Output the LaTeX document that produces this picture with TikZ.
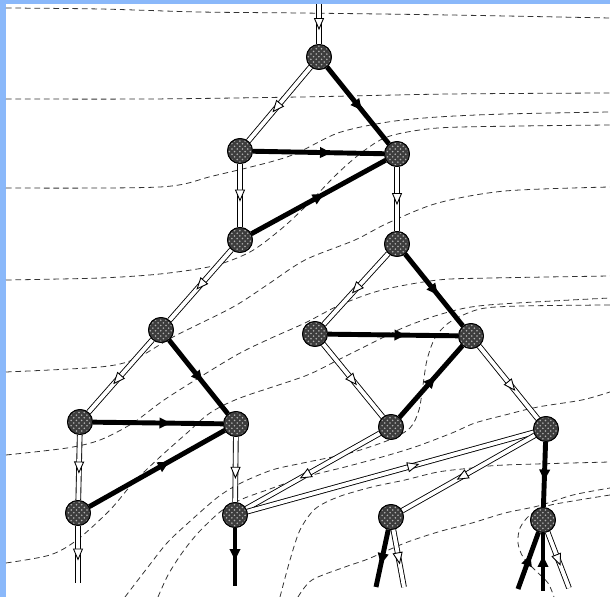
\documentclass[tikz,border=0pt]{standalone}
\usetikzlibrary{decorations.markings,patterns}
\definecolor{frameblue}{RGB}{138,184,250}
\tikzset{
  vnode/.style={circle, draw=black, line width=0.5pt, fill=black!76, minimum size=0.5cm, inner sep=0pt},
  nodetex/.style={pattern=crosshatch dots, pattern color=black!30},
  holline/.style={double=white, line width=0.5pt, double distance=2.2pt},
  blkline/.style={line width=2.8pt, black},
  holtip/.style={decoration={markings, mark=at position #1 with {\draw[fill=white, line width=0.5pt] (5,0) -- (-5.5,4.5) -- (-5.5,-4.5) -- cycle;}}, decorate},
  blktip/.style={decoration={markings, mark=at position #1 with {\fill[black] (6,0) -- (-5,5.6) -- (-5,-5.6) -- cycle;}}, decorate},
  dashline/.style={black!80, line width=0.45pt, dash pattern=on 3.2pt off 2.2pt}
}
\newcommand\HolEdge[3][0.5]{\draw[holline] (#2) -- (#3); \path[holtip=#1] (#2) -- (#3);}
\newcommand\BlkEdge[3][0.5]{\draw[blkline] (#2) -- (#3); \path[blktip=#1] (#2) -- (#3);}
\begin{document}
\begin{tikzpicture}[x=0.02cm, y=-0.02cm]
\useasboundingbox (0,0) rectangle (610,597);
\fill[frameblue] (0,0) rectangle (610,597);
\fill[white] (6,4) rectangle (610,597);

% background dashed curves
\draw[dashline] plot[smooth, tension=0.5] coordinates {(6,8) (100,9) (200,12) (300,13) (450,15) (610,18)};
\draw[dashline] plot[smooth, tension=0.5] coordinates {(6,99) (150,99) (300,97) (450,94) (610,93)};
\draw[dashline] plot[smooth, tension=0.5] coordinates {(6,188) (160,187) (213,176) (287,157) (338,133) (388,122) (438,117) (505,114) (610,112)};
\draw[dashline] plot[smooth, tension=0.5] coordinates {(6,280) (100,278) (160,274) (213,266) (250,252) (280,230) (305,207) (338,173) (365,150) (390,136) (438,128) (522,126) (610,125)};
\draw[dashline] plot[smooth, tension=0.5] coordinates {(6,372) (100,367) (135,359) (173,337) (233,307) (267,285) (305,260) (355,240) (388,223) (438,203) (505,191) (610,187)};
\draw[dashline] plot[smooth, tension=0.5] coordinates {(6,455) (67,448) (100,440) (133,423) (167,398) (233,357) (267,340) (305,323) (340,305) (382,290) (438,280) (492,278) (610,276)};
\draw[dashline] plot[smooth, tension=0.5] coordinates {(6,563) (50,555) (77,540) (110,510) (133,483) (160,457) (187,433) (210,413) (240,398) (305,376) (338,360) (372,343) (405,327) (445,313) (488,305) (610,298)};
\draw[dashline] plot[smooth, tension=0.5] coordinates {(125,597) (148,567) (167,543) (187,524) (218,497) (241,483) (272,470) (303,463) (350,453) (389,440) (410,428) (419,410) (423,385) (427,360) (435,338) (450,322) (480,309) (522,306) (610,305)};
\draw[dashline] plot[smooth, tension=0.5] coordinates {(158,597) (168,575) (182,553) (198,533) (220,512) (240,500) (267,490) (305,477) (345,467) (382,457) (415,447) (452,433) (475,423) (505,415) (538,407) (582,400) (610,392)};
\draw[dashline] plot[smooth, tension=0.5] coordinates {(280,597) (290,560) (300,530) (315,509) (338,497) (372,487) (405,480) (438,472) (472,468) (505,465) (610,462)};
\draw[dashline] plot[smooth, tension=0.5] coordinates {(298,597) (312,580) (345,567) (368,559) (405,543) (438,532) (472,523) (505,513) (538,506) (573,495) (610,488)};
\draw[dashline] plot[smooth, tension=0.5] coordinates {(610,495) (573,501) (547,506) (530,515) (520,528) (518,543) (523,557) (535,570) (548,583) (554,597)};

% node positions
\coordinate (p1) at (319,57);
\coordinate (p2) at (240,151);
\coordinate (p3) at (397,154);
\coordinate (p4) at (240,240);
\coordinate (p5) at (397,244);
\coordinate (p6) at (161,330);
\coordinate (p7) at (315,334);
\coordinate (p8) at (471,336);
\coordinate (p9) at (80,422);
\coordinate (p10) at (236,424);
\coordinate (p11) at (391,427);
\coordinate (p12) at (546,429);
\coordinate (p13) at (78,513);
\coordinate (p14) at (235,515);
\coordinate (p15) at (391,517);
\coordinate (p16) at (543,520);
\coordinate (t0) at (319,4);
\coordinate (b13) at (78,583);
\coordinate (b14) at (235,586);
\coordinate (b15k) at (376,587);
\coordinate (b15h) at (404,587);
\coordinate (b16k) at (518,589);
\coordinate (b16v) at (543,591);
\coordinate (b16h) at (569,588);

\foreach \i in {1,...,16} { \node[vnode] (N\i) at (p\i) {}; }

% hollow (double) edges
\HolEdge[0.5]{t0}{N1}
\HolEdge[0.55]{N1}{N2}
\HolEdge{N2}{N4}
\HolEdge{N3}{N5}
\HolEdge{N4}{N6}
\HolEdge{N5}{N7}
\HolEdge[0.55]{N6}{N9}
\HolEdge{N7}{N11}
\HolEdge[0.55]{N8}{N12}
\HolEdge{N9}{N13}
\HolEdge[0.55]{N10}{N14}
\HolEdge{N13}{b13}
\HolEdge[0.56]{N11}{N14}
\HolEdge[0.58]{N14}{N12}
\HolEdge[0.55]{N12}{N15}
\HolEdge{N15}{b15h}
\HolEdge{N16}{b16h}

% thick black edges
\BlkEdge{N1}{N3}
\BlkEdge[0.55]{N2}{N3}
\BlkEdge{N4}{N3}
\BlkEdge{N5}{N8}
\BlkEdge[0.55]{N7}{N8}
\BlkEdge{N11}{N8}
\BlkEdge{N6}{N10}
\BlkEdge[0.55]{N9}{N10}
\BlkEdge[0.55]{N13}{N10}
\BlkEdge{N12}{N16}
\BlkEdge[0.45]{N14}{b14}
\BlkEdge{N15}{b15k}
\BlkEdge{b16k}{N16}
\BlkEdge{b16v}{N16}

% redraw nodes on top, with a dotted texture
\foreach \i in {1,...,16} {
  \node[vnode] at (p\i) {};
  \fill[nodetex] (p\i) circle (11.5);
}
\end{tikzpicture}
\end{document}
